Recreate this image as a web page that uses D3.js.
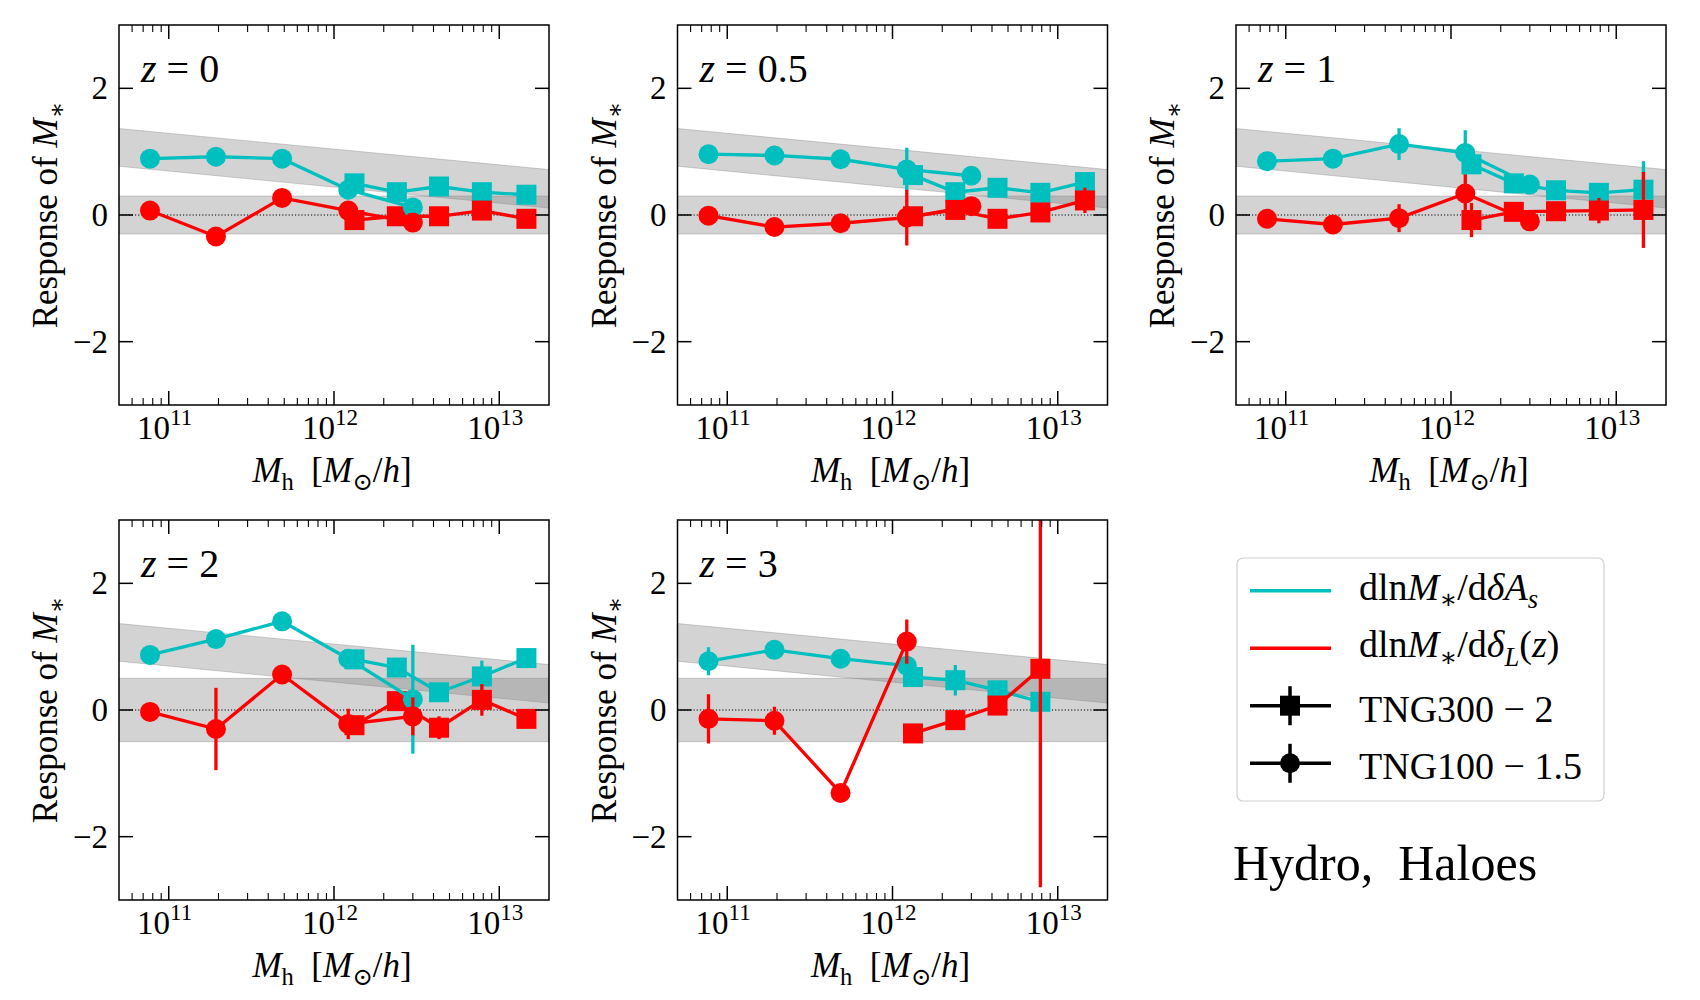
<!DOCTYPE html>
<html><head><meta charset="utf-8">
<script src="https://cdn.jsdelivr.net/npm/d3@7"></script>
<style>body{margin:0;background:#fff}</style>
</head><body><svg id="c" width="1700" height="1000"></svg>
<script>
// ---------------- data ----------------
const zLabels = ["0", "0.5", "1", "2", "3"];
const massCircle = [7.7e10, 1.93e11, 4.85e11, 1.22e12, 3.0e12];   // TNG100-1.5
const massSquare = [1.33e12, 2.4e12, 4.32e12, 7.85e12, 1.46e13];  // TNG300-2

// response to A_s (cyan) and delta_L (red); one inner array per redshift
const asCircle    = [[0.89, 0.92, 0.89, 0.40, 0.12], [0.96, 0.94, 0.88, 0.72, 0.62], [0.85, 0.89, 1.12, 0.98, 0.48], [0.87, 1.12, 1.40, 0.81, 0.17], [0.77, 0.95, 0.81, 0.70]];
const asCircleErr = [[0.05, 0.05, 0.05, 0.08, 0.10], [0.12, 0.05, 0.05, 0.34, 0.10], [0.05, 0.05, 0.25, 0.36, 0.08], [0.05, 0.05, 0.05, 0.08, 0.86], [0.22, 0.05, 0.05, 0.08]];
const dlCircle    = [[0.07, -0.34, 0.27, 0.07, -0.12], [-0.01, -0.19, -0.13, -0.04, 0.14], [-0.06, -0.15, -0.05, 0.34, -0.10], [-0.03, -0.30, 0.56, -0.22, -0.10], [-0.14, -0.17, -1.31, 1.08]];
const dlCircleErr = [[0.05, 0.05, 0.06, 0.10, 0.10], [0.05, 0.05, 0.05, 0.44, 0.08], [0.05, 0.05, 0.22, 0.30, 0.08], [0.05, 0.65, 0.05, 0.24, 0.30], [0.39, 0.22, 0.05, 0.35]];
const asSquare    = [[0.50, 0.36, 0.45, 0.36, 0.32], [0.63, 0.36, 0.43, 0.35, 0.52], [0.80, 0.50, 0.39, 0.35, 0.40], [0.80, 0.67, 0.28, 0.53, 0.82], [0.52, 0.47, 0.31, 0.13]];
const asSquareErr = [[0.05, 0.05, 0.05, 0.05, 0.05], [0.08, 0.05, 0.05, 0.05, 0.06], [0.10, 0.05, 0.05, 0.05, 0.45], [0.05, 0.05, 0.05, 0.25, 0.10], [0.05, 0.24, 0.05, 0.05]];
const dlSquare    = [[-0.08, -0.02, -0.02, 0.07, -0.06], [-0.02, 0.08, -0.06, 0.04, 0.23], [-0.08, 0.05, 0.06, 0.07, 0.08], [-0.24, 0.14, -0.28, 0.16, -0.14], [-0.37, -0.16, 0.07, 0.65]];
const dlSquareErr = [[0.05, 0.05, 0.05, 0.05, 0.05], [0.05, 0.05, 0.05, 0.05, 0.20], [0.27, 0.05, 0.05, 0.20, 0.60], [0.05, 0.05, 0.18, 0.25, 0.05], [0.05, 0.05, 0.05, 3.45]];

// grey bands
const flatBandHalf = [0.3, 0.3, 0.3, 0.5, 0.5];
const diagBandMass = [5e10, 2e13];
const diagBandLo = [0.77, 0.11];
const diagBandHi = [1.365, 0.717];

// ticks
const xDomain = [5e10, 2e13];
const yDomain = [-3, 3];
const xTickVals = [1e11, 1e12, 1e13];
const xTickExp = ["11", "12", "13"];
const yTickVals = [-2, 0, 2];
const yTickText = ["−2", "0", "2"];

// ---------------- layout ----------------
const W = 430, H = 380;
const panelLeft = [119, 677.5, 1236, 119, 677.5];
const panelTop = [25, 25, 25, 520, 520];
const CYAN = "#00bfbf", RED = "#ff0000";
const FONT = "'Liberation Serif','DejaVu Serif',serif";
const LW = 3.3;

const svg = d3.select("#c");
const x = d3.scaleLog().domain(xDomain).range([0, W]);
const y = d3.scaleLinear().domain(yDomain).range([H, 0]);

function rich(sel, segs, fs) {
  let shift = 0;
  segs.forEach(s => {
    const target = s.sub ? 0.22 * fs : (s.sup ? -0.42 * fs : 0);
    const ts = sel.append("tspan").text(s.t).attr("dy", target - shift);
    shift = target;
    if (s.sub || s.sup) ts.attr("font-size", 0.7 * fs);
    if (s.it) ts.attr("font-style", "italic");
  });
}

const minorTicks = [];
for (let e = 10; e <= 13; e++) for (let k = 2; k <= 9; k++) {
  const v = k * Math.pow(10, e);
  if (v > xDomain[0] && v < xDomain[1]) minorTicks.push(v);
}

zLabels.forEach((zl, p) => {
  const g = svg.append("g").attr("transform", `translate(${panelLeft[p]},${panelTop[p]})`);
  const cid = "clip" + p;
  g.append("clipPath").attr("id", cid).append("rect").attr("width", W).attr("height", H);
  const pg = g.append("g").attr("clip-path", `url(#${cid})`);

  // bands
  const diag = diagBandMass.map((m, i) => ({m, lo: diagBandLo[i], hi: diagBandHi[i]}));
  const flat = xDomain.map(m => ({m, lo: -flatBandHalf[p], hi: flatBandHalf[p]}));
  const area = d3.area().x(d => x(d.m)).y0(d => y(d.lo)).y1(d => y(d.hi));
  [diag, flat].forEach(b => {
    pg.append("path").attr("d", area(b)).attr("fill", "#808080").attr("fill-opacity", 0.35)
      .attr("stroke", "#808080").attr("stroke-opacity", 0.35).attr("stroke-width", 1);
  });
  pg.append("line").attr("x1", 0).attr("x2", W).attr("y1", y(0)).attr("y2", y(0))
    .attr("stroke", "#000").attr("stroke-width", 1).attr("stroke-dasharray", "1.2,2");

  const series = [
    {mass: massSquare, v: asSquare[p], e: asSquareErr[p], c: CYAN, sq: true},
    {mass: massSquare, v: dlSquare[p], e: dlSquareErr[p], c: RED, sq: true},
    {mass: massCircle, v: asCircle[p], e: asCircleErr[p], c: CYAN, sq: false},
    {mass: massCircle, v: dlCircle[p], e: dlCircleErr[p], c: RED, sq: false}
  ];
  series.forEach(s => {
    const pts = s.v.map((v, i) => ({m: s.mass[i], v, e: s.e[i]}));
    const sg = pg.append("g");
    sg.append("path").attr("d", d3.line().x(d => x(d.m)).y(d => y(d.v))(pts))
      .attr("fill", "none").attr("stroke", s.c).attr("stroke-width", LW);
    sg.selectAll("line.err").data(pts).join("line")
      .attr("x1", d => x(d.m)).attr("x2", d => x(d.m))
      .attr("y1", d => y(d.v - d.e)).attr("y2", d => y(d.v + d.e))
      .attr("stroke", s.c).attr("stroke-width", LW);
    if (s.sq) {
      sg.selectAll("rect.mk").data(pts).join("rect")
        .attr("x", d => x(d.m) - 10).attr("y", d => y(d.v) - 10)
        .attr("width", 20).attr("height", 20).attr("fill", s.c);
    } else {
      sg.selectAll("circle.mk").data(pts).join("circle")
        .attr("cx", d => x(d.m)).attr("cy", d => y(d.v)).attr("r", 10).attr("fill", s.c);
    }
  });

  // frame
  g.append("rect").attr("width", W).attr("height", H).attr("fill", "none")
    .attr("stroke", "#000").attr("stroke-width", 1.5);

  // ticks (inward, all sides)
  const tk = g.append("g").attr("stroke", "#000");
  xTickVals.forEach(v => {
    tk.append("line").attr("x1", x(v)).attr("x2", x(v)).attr("y1", H).attr("y2", H - 14).attr("stroke-width", 1.5);
    tk.append("line").attr("x1", x(v)).attr("x2", x(v)).attr("y1", 0).attr("y2", 14).attr("stroke-width", 1.5);
  });
  minorTicks.forEach(v => {
    tk.append("line").attr("x1", x(v)).attr("x2", x(v)).attr("y1", H).attr("y2", H - 7).attr("stroke-width", 1.1);
    tk.append("line").attr("x1", x(v)).attr("x2", x(v)).attr("y1", 0).attr("y2", 7).attr("stroke-width", 1.1);
  });
  yTickVals.forEach(v => {
    tk.append("line").attr("x1", 0).attr("x2", 14).attr("y1", y(v)).attr("y2", y(v)).attr("stroke-width", 1.5);
    tk.append("line").attr("x1", W).attr("x2", W - 14).attr("y1", y(v)).attr("y2", y(v)).attr("stroke-width", 1.5);
  });

  // tick labels
  xTickVals.forEach((v, i) => {
    const t = g.append("text").attr("x", x(v) - 4).attr("y", H + 34).attr("text-anchor", "middle")
      .attr("font-family", FONT).attr("font-size", 33);
    rich(t, [{t: "10"}, {t: xTickExp[i], sup: true}], 33);
  });
  yTickVals.forEach((v, i) => {
    g.append("text").attr("x", -11).attr("y", y(v) + 11).attr("text-anchor", "end")
      .attr("font-family", FONT).attr("font-size", 33).text(yTickText[i]);
  });

  // axis labels
  const xl = g.append("text").attr("x", W / 2 - 2).attr("y", H + 77).attr("text-anchor", "middle")
    .attr("font-family", FONT).attr("font-size", 35);
  rich(xl, [{t: "M", it: true}, {t: "h", sub: true}, {t: "\u00a0\u00a0["}, {t: "M", it: true}, {t: "⊙", sub: true}, {t: "/"}, {t: "h", it: true}, {t: "]"}], 35);
  const yl = g.append("text").attr("transform", `translate(${57 - 119},${H / 2}) rotate(-90)`)
    .attr("text-anchor", "middle").attr("font-family", FONT).attr("font-size", 35);
  rich(yl, [{t: "Response of\u00a0"}, {t: "M", it: true}, {t: "∗", sub: true}], 35);

  // redshift label
  const zt = g.append("text").attr("x", 22).attr("y", 57).attr("font-family", FONT).attr("font-size", 40);
  rich(zt, [{t: "z", it: true}, {t: "\u00a0=\u00a0" + zl}], 40);
});

// ---------------- legend ----------------
const lg = svg.append("g");
lg.append("rect").attr("x", 1237).attr("y", 558).attr("width", 367).attr("height", 243).attr("rx", 6)
  .attr("fill", "#fff").attr("stroke", "#d0d0d0").attr("stroke-width", 1.2);
const legendRows = [
  {y: 590.7, c: CYAN, mk: null, segs: [{t: "dln"}, {t: "M", it: true}, {t: "∗", sub: true}, {t: "/d"}, {t: "δ", it: true}, {t: "A", it: true}, {t: "s", it: true, sub: true}], off: 9},
  {y: 648.3, c: RED, mk: null, segs: [{t: "dln"}, {t: "M", it: true}, {t: "∗", sub: true}, {t: "/d"}, {t: "δ", it: true}, {t: "L", it: true, sub: true}, {t: "("}, {t: "z", it: true}, {t: ")"}], off: 9},
  {y: 705.7, c: "#000", mk: "sq", segs: [{t: "TNG300 − 2"}], off: 16},
  {y: 763.3, c: "#000", mk: "ci", segs: [{t: "TNG100 − 1.5"}], off: 16}
];
legendRows.forEach(r => {
  lg.append("line").attr("x1", 1250).attr("x2", 1331).attr("y1", r.y).attr("y2", r.y)
    .attr("stroke", r.c).attr("stroke-width", 3.5);
  if (r.mk) {
    lg.append("line").attr("x1", 1290).attr("x2", 1290).attr("y1", r.y - 19.5).attr("y2", r.y + 19.5)
      .attr("stroke", r.c).attr("stroke-width", 3.5);
    if (r.mk === "sq") lg.append("rect").attr("x", 1280).attr("y", r.y - 10).attr("width", 20).attr("height", 20).attr("fill", r.c);
    else lg.append("circle").attr("cx", 1290).attr("cy", r.y).attr("r", 10).attr("fill", r.c);
  }
  const t = lg.append("text").attr("x", 1359).attr("y", r.y + r.off).attr("font-family", FONT).attr("font-size", 38);
  rich(t, r.segs, 38);
});
svg.append("text").attr("x", 1233).attr("y", 880).attr("font-family", FONT).attr("font-size", 50)
  .text("Hydro,\u00a0\u00a0Haloes");
</script>
</body></html>
